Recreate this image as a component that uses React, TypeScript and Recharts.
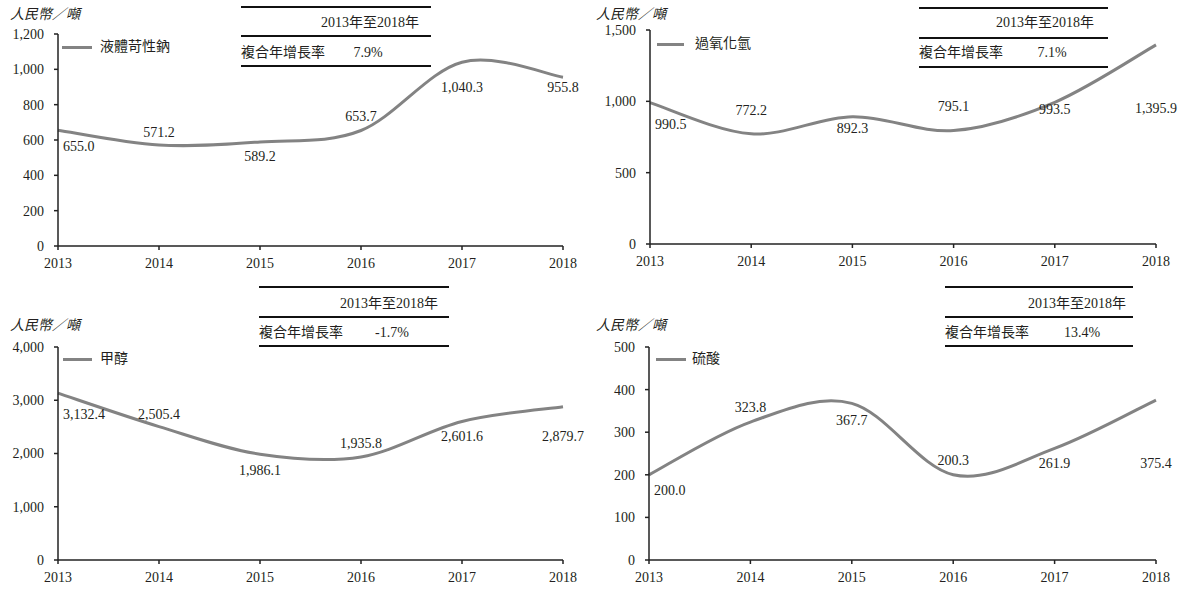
import React from 'react';
import { LineChart, Line, XAxis, YAxis, LabelList } from 'recharts';

// ---- data ----
const YEARS = ['2013', '2014', '2015', '2016', '2017', '2018'];
const CAUSTIC_SODA = [655.0, 571.2, 589.2, 653.7, 1040.3, 955.8];
const HYDROGEN_PEROXIDE = [990.5, 772.2, 892.3, 795.1, 993.5, 1395.9];
const METHANOL = [3132.4, 2505.4, 1986.1, 1935.8, 2601.6, 2879.7];
const SULFURIC_ACID = [200.0, 323.8, 367.7, 200.3, 261.9, 375.4];

const TICKS_1 = [0, 200, 400, 600, 800, 1000, 1200];
const TICKS_2 = [0, 500, 1000, 1500];
const TICKS_3 = [0, 1000, 2000, 3000, 4000];
const TICKS_4 = [0, 100, 200, 300, 400, 500];

const NAMES = ['液體苛性鈉', '過氧化氫', '甲醇', '硫酸'];
const CAGR = ['7.9%', '7.1%', '-1.7%', '13.4%'];
const PERIOD = '2013年至2018年';
const CAGR_LABEL = '複合年增長率';
const UNIT = '人民幣／噸';

// ---- styling / layout ----
const LINE_COLOR = '#838383';
const TEXT_COLOR = '#231f20';
const FONT = '"Liberation Serif", "Times New Roman", "Noto Sans CJK TC", serif';
const CJK_FONT = '"Liberation Serif", "Noto Sans CJK TC", serif';

// label vertical offsets (relative to point), per panel
const LABEL_DY = [
  [16, -13, 15, -14, 25, 10],
  [22, -23, 12, -24, 7, 64],
  [21, -12, 16, -13, 15, 30],
  [16, -15, 17, -14, 15, 63],
];

const PANELS = [
  {
    values: CAUSTIC_SODA, ticks: TICKS_1, left: 0, top: 0,
    margin: { top: 34, right: 27, bottom: 19, left: 8 },
    unitX: 10, unitY: 15, legendLine: [62, 92, 47], legendText: 100,
    table: { l: 241, r: 431, lines: [7, 36, 66], t1y: 23, t2y: 53, valX: 368, t1r: 419 },
  },
  {
    values: HYDROGEN_PEROXIDE, ticks: TICKS_2, left: 590, top: 0,
    margin: { top: 30, right: 24, bottom: 21, left: 10 },
    unitX: 596, unitY: 15, legendLine: [657, 684, 44], legendText: 695,
    table: { l: 919, r: 1108, lines: [8, 38, 67], t1y: 23, t2y: 53, valX: 1052, t1r: 1094 },
  },
  {
    values: METHANOL, ticks: TICKS_3, left: 0, top: 295,
    margin: { top: 52, right: 27, bottom: 0, left: 8 },
    unitX: 10, unitY: 326, legendLine: [63, 92, 359], legendText: 100,
    table: { l: 259, r: 449, lines: [287, 317, 346], t1y: 304, t2y: 333, valX: 392, t1r: 438 },
  },
  {
    values: SULFURIC_ACID, ticks: TICKS_4, left: 590, top: 295,
    margin: { top: 52, right: 24, bottom: 0, left: 9 },
    unitX: 596, unitY: 326, legendLine: [656, 686, 359], legendText: 692,
    table: { l: 945, r: 1133, lines: [287, 317, 346], t1y: 304, t2y: 333, valX: 1082, t1r: 1126 },
  },
];

// Catmull-Rom style smoothing (like spreadsheet "smoothed line")
function smoothCurve(context: any) {
  let pts: number[][] = [];
  return {
    areaStart() {},
    areaEnd() {},
    lineStart() { pts = []; },
    point(x: number, y: number) { pts.push([+x, +y]); },
    lineEnd() {
      if (!pts.length) return;
      context.moveTo(pts[0][0], pts[0][1]);
      for (let i = 0; i < pts.length - 1; i++) {
        const p0 = pts[i - 1] || pts[i];
        const p1 = pts[i];
        const p2 = pts[i + 1];
        const p3 = pts[i + 2] || p2;
        const c1x = p1[0] + (p2[0] - p0[0]) / 6;
        const c1y = p1[1] + (p2[1] - p0[1]) / 6;
        const c2x = p2[0] - (p3[0] - p1[0]) / 6;
        const c2y = p2[1] - (p3[1] - p1[1]) / 6;
        context.bezierCurveTo(c1x, c1y, c2x, c2y, p2[0], p2[1]);
      }
    },
  };
}

const fmtTick = (v: number) => v.toLocaleString('en-US');
const fmtVal = (v: number) =>
  v.toLocaleString('en-US', { minimumFractionDigits: 1, maximumFractionDigits: 1 });

function Panel({ idx }: { idx: number }) {
  const p = PANELS[idx];
  const data = YEARS.map((year, i) => ({ year, value: p.values[i] }));
  const dys = LABEL_DY[idx];
  const yMax = p.ticks[p.ticks.length - 1];
  const tickStyle = { fontFamily: FONT, fontSize: 14, fill: TEXT_COLOR };

  const renderLabel = (props: any) => {
    const { x, y, value, index } = props;
    const first = index === 0;
    return (
      <text
        x={first ? x + 5 : x}
        y={y + dys[index]}
        textAnchor={first ? 'start' : 'middle'}
        dominantBaseline="central"
        fontFamily={FONT}
        fontSize={14}
        fill={TEXT_COLOR}
      >
        {fmtVal(value)}
      </text>
    );
  };

  return (
    <div style={{ position: 'absolute', left: p.left, top: p.top, width: 590, height: 295 }}>
      <LineChart width={590} height={295} data={data} margin={p.margin}>
        <XAxis
          dataKey="year"
          interval={0}
          tick={tickStyle}
          tickSize={4}
          tickMargin={8}
          height={30}
          axisLine={{ stroke: '#222', strokeWidth: 1.5 }}
          tickLine={{ stroke: '#222', strokeWidth: 1.5 }}
        />
        <YAxis
          type="number"
          domain={[0, yMax]}
          ticks={p.ticks}
          tickFormatter={fmtTick}
          tick={tickStyle}
          tickSize={4}
          tickMargin={10}
          width={50}
          axisLine={{ stroke: '#222', strokeWidth: 1.5 }}
          tickLine={{ stroke: '#222', strokeWidth: 1.5 }}
        />
        <Line
          dataKey="value"
          type={smoothCurve as any}
          stroke={LINE_COLOR}
          strokeWidth={3}
          dot={false}
          activeDot={false}
          isAnimationActive={false}
        >
          <LabelList dataKey="value" content={renderLabel} />
        </Line>
      </LineChart>
    </div>
  );
}

function Overlay({ idx }: { idx: number }) {
  const p = PANELS[idx];
  const t = p.table;
  const base: React.CSSProperties = {
    position: 'absolute',
    fontFamily: CJK_FONT,
    fontSize: 14,
    lineHeight: '18px',
    color: TEXT_COLOR,
    whiteSpace: 'nowrap',
  };
  return (
    <>
      <div style={{ ...base, left: p.unitX, top: p.unitY - 9, fontStyle: 'italic' }}>{UNIT}</div>
      <div
        style={{
          position: 'absolute',
          left: p.legendLine[0],
          top: p.legendLine[2] - 1.5,
          width: p.legendLine[1] - p.legendLine[0],
          height: 3,
          background: LINE_COLOR,
        }}
      />
      <div style={{ ...base, left: p.legendText, top: p.legendLine[2] - 9 }}>{NAMES[idx]}</div>
      {t.lines.map((ly, i) => (
        <div
          key={i}
          style={{ position: 'absolute', left: t.l, top: ly - 1, width: t.r - t.l, height: 2, background: '#111' }}
        />
      ))}
      <div style={{ ...base, right: 1180 - t.t1r, top: t.t1y - 9 }}>{PERIOD}</div>
      <div style={{ ...base, left: t.l, top: t.t2y - 9 }}>{CAGR_LABEL}</div>
      <div style={{ ...base, left: t.valX - 40, width: 80, textAlign: 'center', top: t.t2y - 9 }}>
        {CAGR[idx]}
      </div>
    </>
  );
}

export default function App() {
  return (
    <div style={{ position: 'absolute', left: 0, top: 0, width: 1180, height: 590, background: '#fff' }}>
      {PANELS.map((_, i) => (
        <Panel key={i} idx={i} />
      ))}
      {PANELS.map((_, i) => (
        <Overlay key={'o' + i} idx={i} />
      ))}
    </div>
  );
}
